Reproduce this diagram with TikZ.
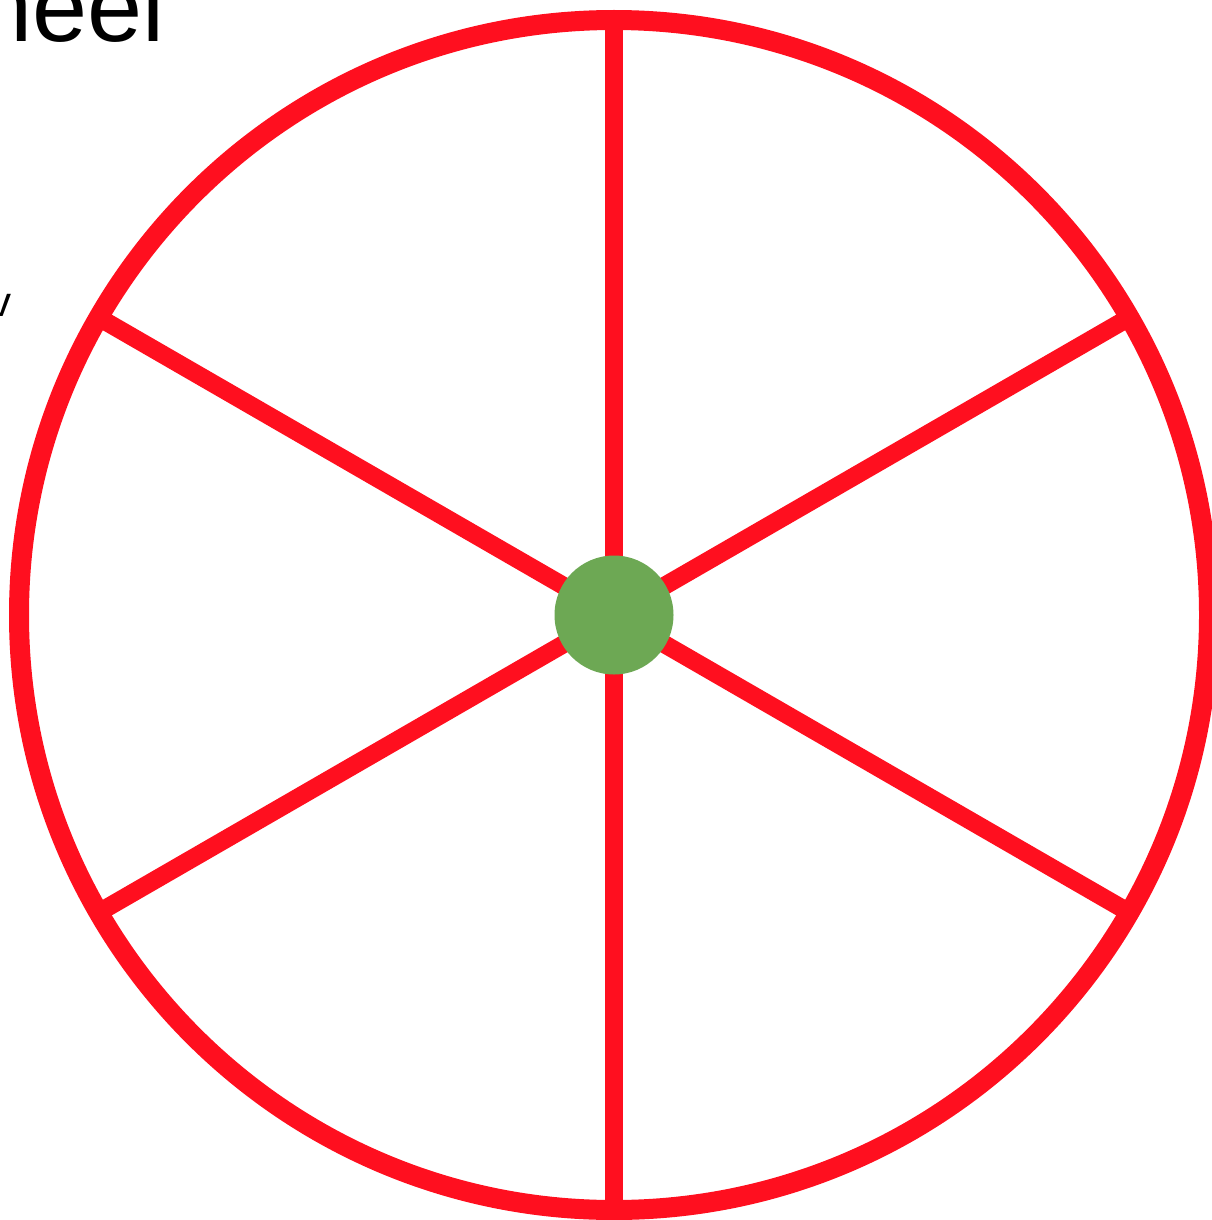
\documentclass[tikz,border=0pt]{standalone}
\usepackage{fontspec}
\setmainfont{Liberation Sans}
\usetikzlibrary{calc}
\definecolor{wheelred}{HTML}{FF0F1F}
\definecolor{hubgreen}{HTML}{6DA854}
\begin{document}
\begin{tikzpicture}[x=1pt,y=-1pt,
  rim/.style={draw=wheelred,line width=20pt},
  spoke/.style={draw=wheelred,line width=18pt},
  hub/.style={circle,fill=hubgreen,minimum size=119pt,inner sep=0pt}]
\useasboundingbox (0,0) rectangle (1211,1220);
\coordinate (c) at (614,615);
\draw[rim] (c) circle[radius=595];
\foreach \a/\n in {90/s1,30/s2,-30/s3,-90/s4,-150/s5,150/s6}{
  \coordinate (\n) at ($(c)+(\a:595)$);
}
\draw[spoke] (s1) -- (s4);
\draw[spoke] (s2) -- (s5);
\draw[spoke] (s3) -- (s6);
\node[hub] (h) at (c) {};
\node[anchor=base east,inner sep=0pt,font=\fontsize{99}{110}\selectfont] (title) at (165,42) {Wheel};
\node[anchor=base east,inner sep=0pt,font=\fontsize{42}{50}\selectfont] (v) at (12,316) {v};
\end{tikzpicture}
\end{document}
